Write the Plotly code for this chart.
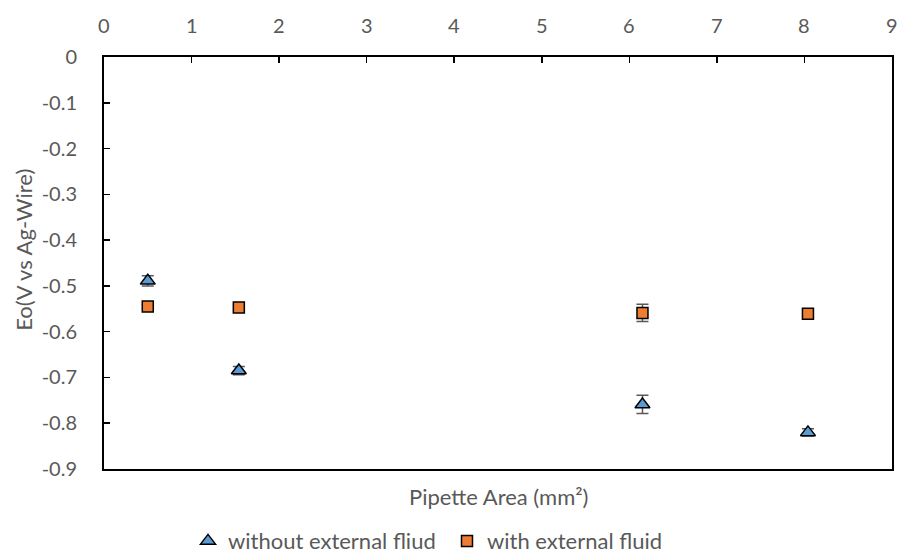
import plotly.graph_objects as go

# Data
area_without = [0.5, 1.54, 6.15, 8.04]
eo_without = [-0.489, -0.685, -0.759, -0.820]
err_without = [0.011, 0.009, 0.020, 0.008]

area_with = [0.5, 1.54, 6.15, 8.04]
eo_with = [-0.545, -0.547, -0.559, -0.561]
err_with = [0.004, 0.004, 0.019, 0.004]

x_ticks = [0, 1, 2, 3, 4, 5, 6, 7, 8, 9]
y_ticks = [0, -0.1, -0.2, -0.3, -0.4, -0.5, -0.6, -0.7, -0.8, -0.9]

FONT = "Lato, Open Sans, sans-serif"
GREY = "#595959"
FS = 20     # tick labels
FT = 22     # titles / legend

fig = go.Figure()
fig.add_trace(go.Scatter(
    x=area_without, y=eo_without, mode="markers",
    name="without external fliud",
    marker=dict(symbol="triangle-up", size=13, color="#5B9BD5",
                line=dict(color="black", width=1.5)),
    error_y=dict(type="data", array=err_without, color=GREY, thickness=1.5, width=6),
))
fig.add_trace(go.Scatter(
    x=area_with, y=eo_with, mode="markers",
    name="with external fluid",
    marker=dict(symbol="square", size=11, color="#ED7D31",
                line=dict(color="black", width=1.5)),
    error_y=dict(type="data", array=err_with, color=GREY, thickness=1.5, width=6),
))

# top x tick labels drawn as annotations so the last one is not clipped
tick_annotations = [
    dict(text=str(v), x=v, xref="x", y=1.0765, yref="paper",
         xanchor="center", yanchor="middle", showarrow=False,
         font=dict(family=FONT, size=FS, color=GREY))
    for v in x_ticks
]

fig.update_layout(
    width=899, height=554,
    margin=dict(l=104, r=7, t=57, b=85, autoexpand=False),
    paper_bgcolor="white", plot_bgcolor="white",
    font=dict(family=FONT, size=FS, color=GREY),
    showlegend=True,
    legend=dict(orientation="h", x=0.1066, xanchor="left", y=-0.175, yanchor="middle",
                font=dict(family=FONT, size=FT, color=GREY), itemwidth=30,
                entrywidth=214),
    xaxis=dict(
        side="top", range=[0, 9], tickvals=x_ticks, showticklabels=False,
        showgrid=False, zeroline=False, showline=True, linecolor="black", linewidth=2,
        mirror=True, ticks="inside", ticklen=6, tickcolor="black", tickwidth=1.5,
        automargin=False,
    ),
    yaxis=dict(
        range=[-0.9, 0], tickvals=y_ticks, ticktext=[f"{v:g}" for v in y_ticks],
        showgrid=False, zeroline=False, showline=True, linecolor="black", linewidth=2,
        mirror=True, ticks="inside", ticklen=6, tickcolor="black", tickwidth=1.5,
        tickfont=dict(family=FONT, size=FS, color=GREY), automargin=False,
        ticklabelstandoff=21,
    ),
    annotations=tick_annotations + [
        dict(text="Pipette Area (mm²)", xref="paper", yref="paper", x=0.5, y=-0.066,
             xanchor="center", yanchor="middle", showarrow=False,
             font=dict(family=FONT, size=FT, color=GREY)),
        dict(text="Eo(V vs Ag-Wire)", xref="paper", yref="paper", x=-0.1015, y=0.532,
             xanchor="center", yanchor="middle", showarrow=False, textangle=-90,
             font=dict(family=FONT, size=FT, color=GREY)),
    ],
)

fig.write_html(
    "out.html",
    config={"displayModeBar": False, "staticPlot": True},
    post_script="document.body.style.margin='0';document.body.style.overflow='hidden';",
)
